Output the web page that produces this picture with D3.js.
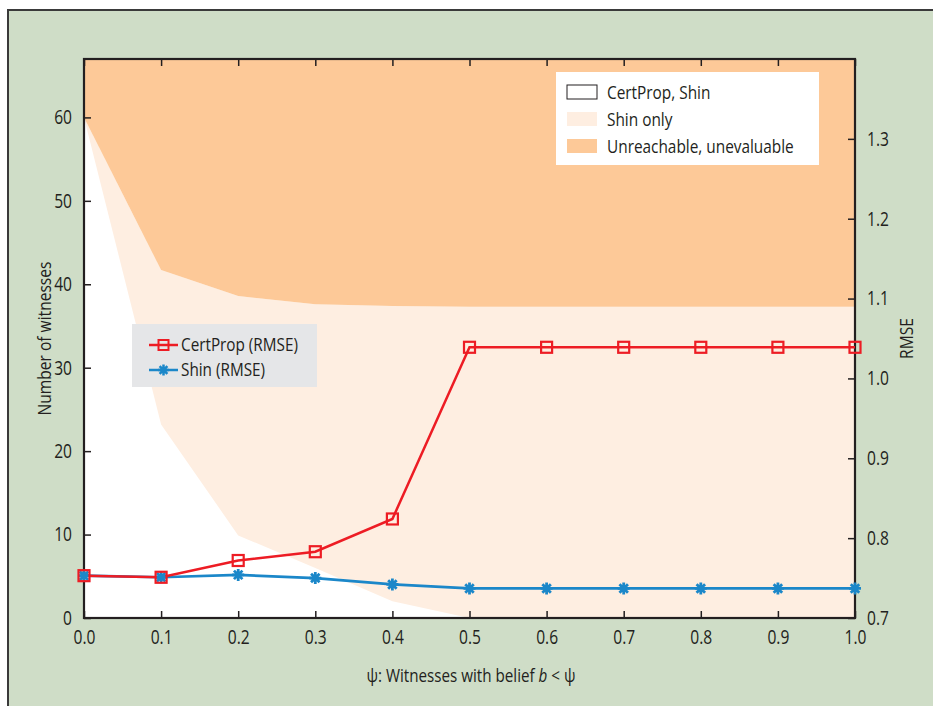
<!DOCTYPE html>
<html>
<head>
<meta charset="utf-8">
<script src="https://cdn.jsdelivr.net/npm/d3@7"></script>
<style>
  html, body { margin: 0; padding: 0; background: #ffffff; }
  svg { display: block; }
  text {
    font-family: "Open Sans", "Noto Sans", sans-serif;
    fill: #231f20;
  }
</style>
</head>
<body>
<svg id="chart" width="933" height="706"></svg>
<script>
// Threshold ψ on the x axis
const psi = [0.0, 0.1, 0.2, 0.3, 0.4, 0.5, 0.6, 0.7, 0.8, 0.9, 1.0];
// Witness counts: upper edge of the region evaluable by both methods
const bothEvaluable = [60, 23.2, 9.9, 6.0, 2.0, 0, 0, 0, 0, 0, 0];
// Witness counts: lower edge of the unreachable / unevaluable region
const unreachableFloor = [60, 41.7, 38.6, 37.6, 37.4, 37.3, 37.3, 37.3, 37.3, 37.3, 37.3];
// RMSE series
const certPropRmse = [0.753, 0.751, 0.772, 0.783, 0.824, 1.039, 1.039, 1.039, 1.039, 1.039, 1.039];
const shinRmse = [0.753, 0.751, 0.754, 0.750, 0.742, 0.737, 0.737, 0.737, 0.737, 0.737, 0.737];
// Tick labels
const xTicks = [0, 0.1, 0.2, 0.3, 0.4, 0.5, 0.6, 0.7, 0.8, 0.9, 1.0];
const leftTicks = [0, 10, 20, 30, 40, 50, 60];
const rightTicks = [0.7, 0.8, 0.9, 1.0, 1.1, 1.2, 1.3];

const colors = {
  bg: "#cfddc7",
  unreachable: "#fdc998",
  shinOnly: "#feeee1",
  certProp: "#ed1c24",
  shin: "#1b87c9",
  legendGray: "#e5e6e8"
};

// Horizontal squeeze giving the narrow, tall type of the figure
const SQ = 0.78;

const svg = d3.select("#chart");
const W = 933, H = 706;
const plot = { left: 84, right: 855, top: 59, bottom: 618 };

// Condensed text helper: draws text at (x, y) squeezed horizontally
function ctext(parent, x, y, size, str, opts = {}) {
  const s = opts.squeeze || SQ;
  const g = parent.append("g")
    .attr("transform", `translate(${x},${y})${opts.rotate ? ` rotate(${opts.rotate})` : ""} scale(${s},1)`);
  const t = g.append("text")
    .attr("text-anchor", opts.anchor || "start")
    .attr("dy", "0.35em")
    .style("font-size", size + "px");
  if (str) t.text(str);
  return t;
}

// Page frame
svg.append("rect").attr("x", 8).attr("y", 10).attr("width", W).attr("height", H)
  .attr("fill", colors.bg).attr("stroke", "#3a3a3a").attr("stroke-width", 2);

const x = d3.scaleLinear().domain([0, 1]).range([plot.left, plot.right]);
const yL = d3.scaleLinear().domain([0, 67]).range([plot.bottom, plot.top]);
const yR = d3.scaleLinear().domain([0.7, 1.4]).range([plot.bottom, plot.top]);

const g = svg.append("g");

// Plot background (both methods evaluable)
g.append("rect").attr("x", plot.left).attr("y", plot.top)
  .attr("width", plot.right - plot.left).attr("height", plot.bottom - plot.top)
  .attr("fill", "#ffffff");

// Shin-only band
const shinBand = d3.area()
  .x((d, i) => x(psi[i]))
  .y0((d, i) => yL(bothEvaluable[i]))
  .y1((d, i) => yL(unreachableFloor[i]));
g.append("path").datum(psi).attr("d", shinBand).attr("fill", colors.shinOnly);

// Unreachable band up to the top of the plot
const unreachBand = d3.area()
  .x((d, i) => x(psi[i]))
  .y0((d, i) => yL(unreachableFloor[i]))
  .y1(() => yL(67));
g.append("path").datum(psi).attr("d", unreachBand).attr("fill", colors.unreachable);

// Axes (ticks point inward)
const fmt1 = d3.format(".1f");
const axStyle = sel => {
  sel.select(".domain").remove();
  sel.selectAll(".tick line").attr("stroke", "#231f20").attr("stroke-width", 1.5);
  sel.selectAll(".tick text")
    .style("font-size", "20px").attr("fill", "#231f20")
    .each(function () {
      const t = d3.select(this);
      const tx = +t.attr("x") || 0;
      t.attr("x", tx / SQ).attr("transform", `scale(${SQ},1)`);
    });
};

g.append("g").attr("transform", `translate(0,${plot.bottom})`)
  .call(d3.axisBottom(x).tickValues(xTicks).tickFormat(fmt1).tickSizeInner(-7).tickPadding(12))
  .call(axStyle);
g.append("g").attr("transform", `translate(0,${plot.top})`)
  .call(d3.axisTop(x).tickValues(xTicks).tickFormat("").tickSizeInner(-7))
  .call(axStyle);
g.append("g").attr("transform", `translate(${plot.left},0)`)
  .call(d3.axisLeft(yL).tickValues(leftTicks).tickFormat(d3.format("d")).tickSizeInner(-7).tickPadding(12))
  .call(axStyle);
g.append("g").attr("transform", `translate(${plot.right},0)`)
  .call(d3.axisRight(yR).tickValues(rightTicks).tickFormat(fmt1).tickSizeInner(-7).tickPadding(12))
  .call(axStyle);

// Plot frame
g.append("rect").attr("x", plot.left).attr("y", plot.top)
  .attr("width", plot.right - plot.left).attr("height", plot.bottom - plot.top)
  .attr("fill", "none").attr("stroke", "#231f20").attr("stroke-width", 2.2);

// RMSE lines
const rmseLine = arr => d3.line().x((d, i) => x(psi[i])).y((d, i) => yR(arr[i]));

g.append("path").datum(psi).attr("d", rmseLine(shinRmse))
  .attr("fill", "none").attr("stroke", colors.shin).attr("stroke-width", 2.7);
g.append("path").datum(psi).attr("d", rmseLine(certPropRmse))
  .attr("fill", "none").attr("stroke", colors.certProp).attr("stroke-width", 2.5);

// Asterisk marker path, centred on 0,0
const asterisk = r => {
  const a = r * Math.SQRT1_2;
  return `M${-r},0L${r},0M0,${-r}L0,${r}M${-a},${-a}L${a},${a}M${-a},${a}L${a},${-a}`;
};

g.append("g").selectAll("path").data(psi).join("path")
  .attr("transform", (d, i) => `translate(${x(d)},${yR(shinRmse[i])})`)
  .attr("d", asterisk(6))
  .attr("fill", "none").attr("stroke", colors.shin).attr("stroke-width", 2.8);

g.append("g").selectAll("rect").data(psi).join("rect")
  .attr("x", (d, i) => x(d) - 5.5).attr("y", (d, i) => yR(certPropRmse[i]) - 5.5)
  .attr("width", 11).attr("height", 11)
  .attr("fill", "none").attr("stroke", colors.certProp).attr("stroke-width", 2.2);

// Axis titles
ctext(svg, 44, (plot.top + plot.bottom) / 2, 19, "Number of witnesses",
  { anchor: "middle", rotate: -90, squeeze: 0.82 });
ctext(svg, 906, (plot.top + plot.bottom) / 2, 19, "RMSE",
  { anchor: "middle", rotate: -90, squeeze: 0.82 });
const xt = ctext(svg, 471, 675, 19, null, { anchor: "middle", squeeze: 0.8 });
xt.append("tspan").text("ψ: Witnesses with belief ");
xt.append("tspan").style("font-style", "italic").text("b");
xt.append("tspan").text(" < ψ");

// Region legend
const leg1 = svg.append("g");
leg1.append("rect").attr("x", 556).attr("y", 72).attr("width", 263).attr("height", 93).attr("fill", "#ffffff");
const regionItems = [
  { label: "CertProp, Shin", fill: "#ffffff", stroke: "#231f20" },
  { label: "Shin only", fill: colors.shinOnly, stroke: "none" },
  { label: "Unreachable, unevaluable", fill: colors.unreachable, stroke: "none" }
];
const rowY = [92, 119, 146];
regionItems.forEach((it, i) => {
  leg1.append("rect").attr("x", 567).attr("y", rowY[i] - 7).attr("width", 30).attr("height", 14)
    .attr("fill", it.fill).attr("stroke", it.stroke).attr("stroke-width", 1);
  ctext(leg1, 607, rowY[i], 19, it.label, { squeeze: 0.81 });
});

// Series legend
const leg2 = svg.append("g");
leg2.append("rect").attr("x", 132).attr("y", 324).attr("width", 185).attr("height", 63).attr("fill", colors.legendGray);
const seriesItems = [
  { label: "CertProp (RMSE)", color: colors.certProp, marker: "square", y: 345 },
  { label: "Shin (RMSE)", color: colors.shin, marker: "asterisk", y: 370 }
];
seriesItems.forEach(it => {
  leg2.append("line").attr("x1", 149).attr("x2", 178).attr("y1", it.y).attr("y2", it.y)
    .attr("stroke", it.color).attr("stroke-width", 2.5);
  if (it.marker === "square") {
    leg2.append("rect").attr("x", 163.5 - 5).attr("y", it.y - 5).attr("width", 10).attr("height", 10)
      .attr("fill", "none").attr("stroke", it.color).attr("stroke-width", 2);
  } else {
    leg2.append("path").attr("transform", `translate(163.5,${it.y})`).attr("d", asterisk(5.5))
      .attr("fill", "none").attr("stroke", it.color).attr("stroke-width", 2.5);
  }
  ctext(leg2, 181, it.y, 18, it.label, { squeeze: 0.85 });
});
</script>
</body>
</html>
